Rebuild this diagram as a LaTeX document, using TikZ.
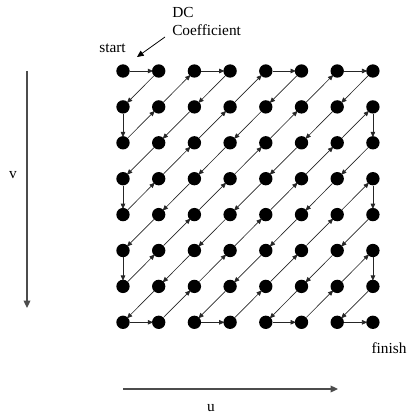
\documentclass[tikz,border=0pt]{standalone}
\usepackage{fontspec}
\setmainfont{Liberation Serif}
\usetikzlibrary{arrows.meta}
\begin{document}
\begin{tikzpicture}[x=0.75pt,y=-0.75pt,
  dot/.style={circle,fill=black,inner sep=0pt,minimum size=10pt},
  zz/.style={draw=black!85,line width=0.5pt,shorten >=-1pt,-{Triangle[length=4pt,width=3.4pt]}},
  axis/.style={draw=black!70,line width=0.9pt,-{Triangle[length=5.5pt,width=5pt]}},
  lbl/.style={inner sep=0pt,font=\fontsize{11.5}{14}\selectfont}]
\useasboundingbox (0,0) rectangle (410,417);
\foreach \i in {0,...,7}{
  \foreach \j in {0,...,7}{
    \node[dot] (d\i\j) at ({123+35.7*\i},{71+35.9*\j}) {};
  }
}
\foreach \a/\b in {00/10,10/01,01/02,02/11,11/20,20/30,30/21,21/12,12/03,03/04,04/13,13/22,22/31,31/40,
  40/50,50/41,41/32,32/23,23/14,14/05,05/06,06/15,15/24,24/33,33/42,42/51,51/60,60/70,
  70/61,61/52,52/43,43/34,34/25,25/16,16/07,07/17,17/26,26/35,35/44,44/53,53/62,62/71,71/72,
  72/63,63/54,54/45,45/36,36/27,27/37,37/46,46/55,55/64,64/73,73/74,74/65,65/56,56/47,47/57,
  57/66,66/75,75/76,76/67,67/77}{
  \draw[zz] (d\a) -- (d\b);
}
\node[lbl,align=left,anchor=west] (dc) at (172,21.5) {DC\\Coefficient};
\node[lbl] (start) at (112.5,48) {start};
\coordinate (dcA) at (165,37);
\coordinate (dcB) at (137,57);
\draw[draw=black,line width=0.6pt,-{Triangle[length=5pt,width=4.5pt]}] (dcA) -- (dcB);
\node[lbl] (v) at (13,175) {v};
\coordinate (vA) at (27,71);
\coordinate (vB) at (27,308);
\draw[axis] (vA) -- (vB);
\coordinate (uA) at (123,389);
\coordinate (uB) at (338,389);
\draw[axis] (uA) -- (uB);
\node[lbl] (u) at (211,408) {u};
\node[lbl] (finish) at (389,348) {finish};
\end{tikzpicture}
\end{document}
